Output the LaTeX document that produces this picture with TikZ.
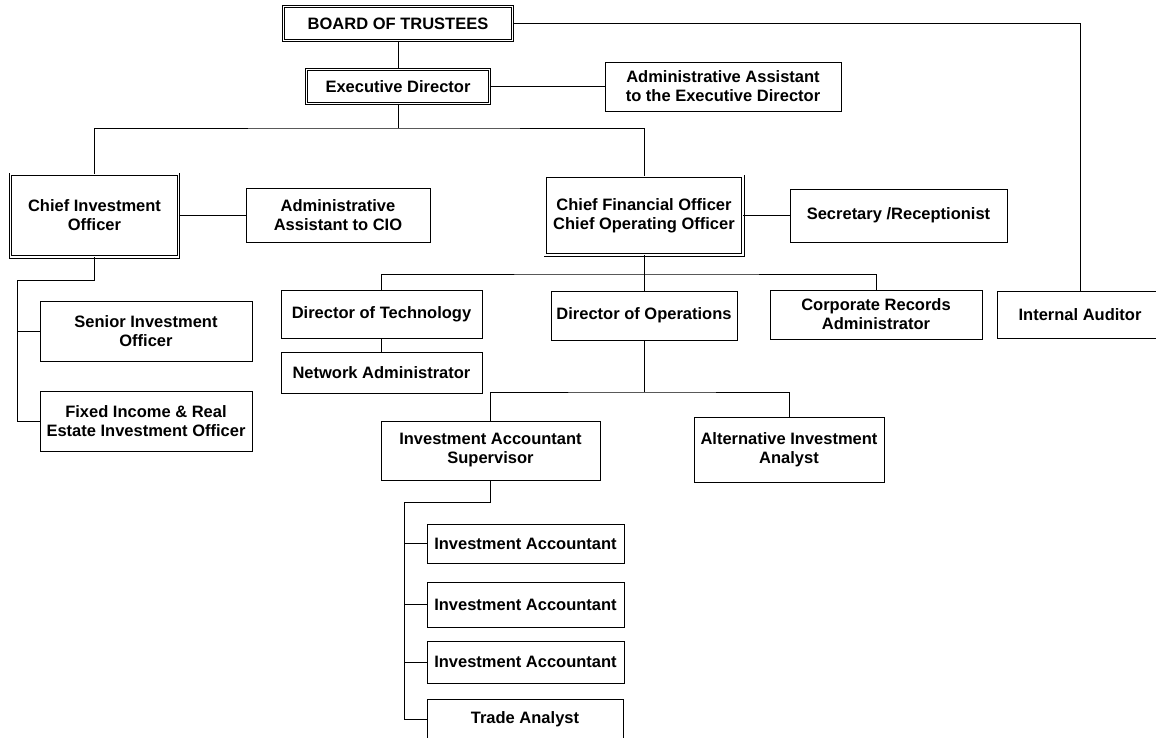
\documentclass[tikz,border=0pt]{standalone}
\usepackage{fontspec}
\setmainfont{Liberation Sans}
\usepackage{tikz}

\begin{document}
\begin{tikzpicture}[x=1pt,y=-1pt,line width=0.8pt,
		post/.style={draw,rectangle,fill=white,align=center,inner sep=0pt,
			font=\fontsize{16.5}{19}\selectfont\bfseries},
		headpost/.style={post,double,double distance=1.6pt}]
	\useasboundingbox (0,0) rectangle (1156,737);

	\node[headpost,minimum width=228.8,minimum height=33.8] (board) at (398,23.5) {BOARD OF TRUSTEES};
	\node[headpost,minimum width=182.8,minimum height=33.8] (exec) at (398,86.5) {Executive Director};
	\node[post,minimum width=236,minimum height=49] (aaed) at (723,86.5) {Administrative Assistant\\to the Executive Director};

	\node[headpost,minimum width=167.8,minimum height=82.8] (cio) at (94.5,215.5) {Chief Investment\\Officer};
	\node[post,minimum width=184,minimum height=54] (aacio) at (338,215.5) {Administrative\\Assistant to CIO};
	\node[headpost,minimum width=197.8,minimum height=78.8] (cfo) at (644,215.5) {Chief Financial Officer\\Chief Operating Officer};
	\node[post,minimum width=217,minimum height=53] (sec) at (898.5,215.5) {Secretary /Receptionist};

	\node[post,minimum width=212,minimum height=60] (senior) at (146,331.5) {Senior Investment\\Officer};
	\node[post,minimum width=212,minimum height=60] (fixed) at (146,421) {Fixed Income \& Real\\Estate Investment Officer};

	\node[post,minimum width=201,minimum height=48] (dtech) at (381.5,314) {Director of Technology};
	\node[post,minimum width=201,minimum height=41] (netadm) at (381.5,372.5) {Network Administrator};
	\node[post,minimum width=186,minimum height=49] (dops) at (644,315.5) {Director of Operations};
	\node[post,minimum width=212,minimum height=49] (corp) at (876,314.5) {Corporate Records\\Administrator};
	\node[post,minimum width=166,minimum height=47] (audit) at (1080,314.5) {Internal Auditor};

	\node[post,minimum width=219,minimum height=59] (ias) at (490.5,450.5) {Investment Accountant\\Supervisor};
	\node[post,minimum width=190,minimum height=65] (alt) at (789,449.5) {Alternative Investment\\Analyst};

	\node[post,minimum width=197,minimum height=39] (ia1) at (525.5,543.5) {Investment Accountant};
	\node[post,minimum width=197,minimum height=45] (ia2) at (525.5,604.5) {Investment Accountant};
	\node[post,minimum width=197,minimum height=42] (ia3) at (525.5,662) {Investment Accountant};
	\node[post,minimum width=196,minimum height=41] (trade) at (525,719.5) {Trade Analyst};

	\coordinate (edbus) at (398,128);
	\coordinate (ciobus) at (17,280);
	\coordinate (cfobus) at (644,274);
	\coordinate (opsbus) at (644,392);
	\coordinate (iasbus) at (404,502);

	\draw (board.east) -| (audit.north);
	\draw (board) -- (exec);
	\draw (exec) -- (aaed);
	\draw (exec) -- (edbus);
	\draw (cio.north) |- (edbus) -| (cfo.north);
	\draw (cio) -- (aacio);
	\draw (cfo) -- (sec);

	\draw (cio.south) |- (ciobus) |- (fixed.west);
	\draw (ciobus |- senior.west) -- (senior.west);

	\draw (cfo.south) -- (cfobus);
	\draw (dtech.north) |- (cfobus) -| (corp.north);
	\draw (cfobus) -- (dops.north);
	\draw (dtech) -- (netadm);

	\draw (dops.south) -- (opsbus);
	\draw (ias.north) |- (opsbus) -| (alt.north);

	\draw (ias.south) |- (iasbus) |- (trade.west);
	\foreach \acct in {ia1,ia2,ia3}
		\draw (iasbus |- \acct.west) -- (\acct.west);
\end{tikzpicture}
\end{document}
